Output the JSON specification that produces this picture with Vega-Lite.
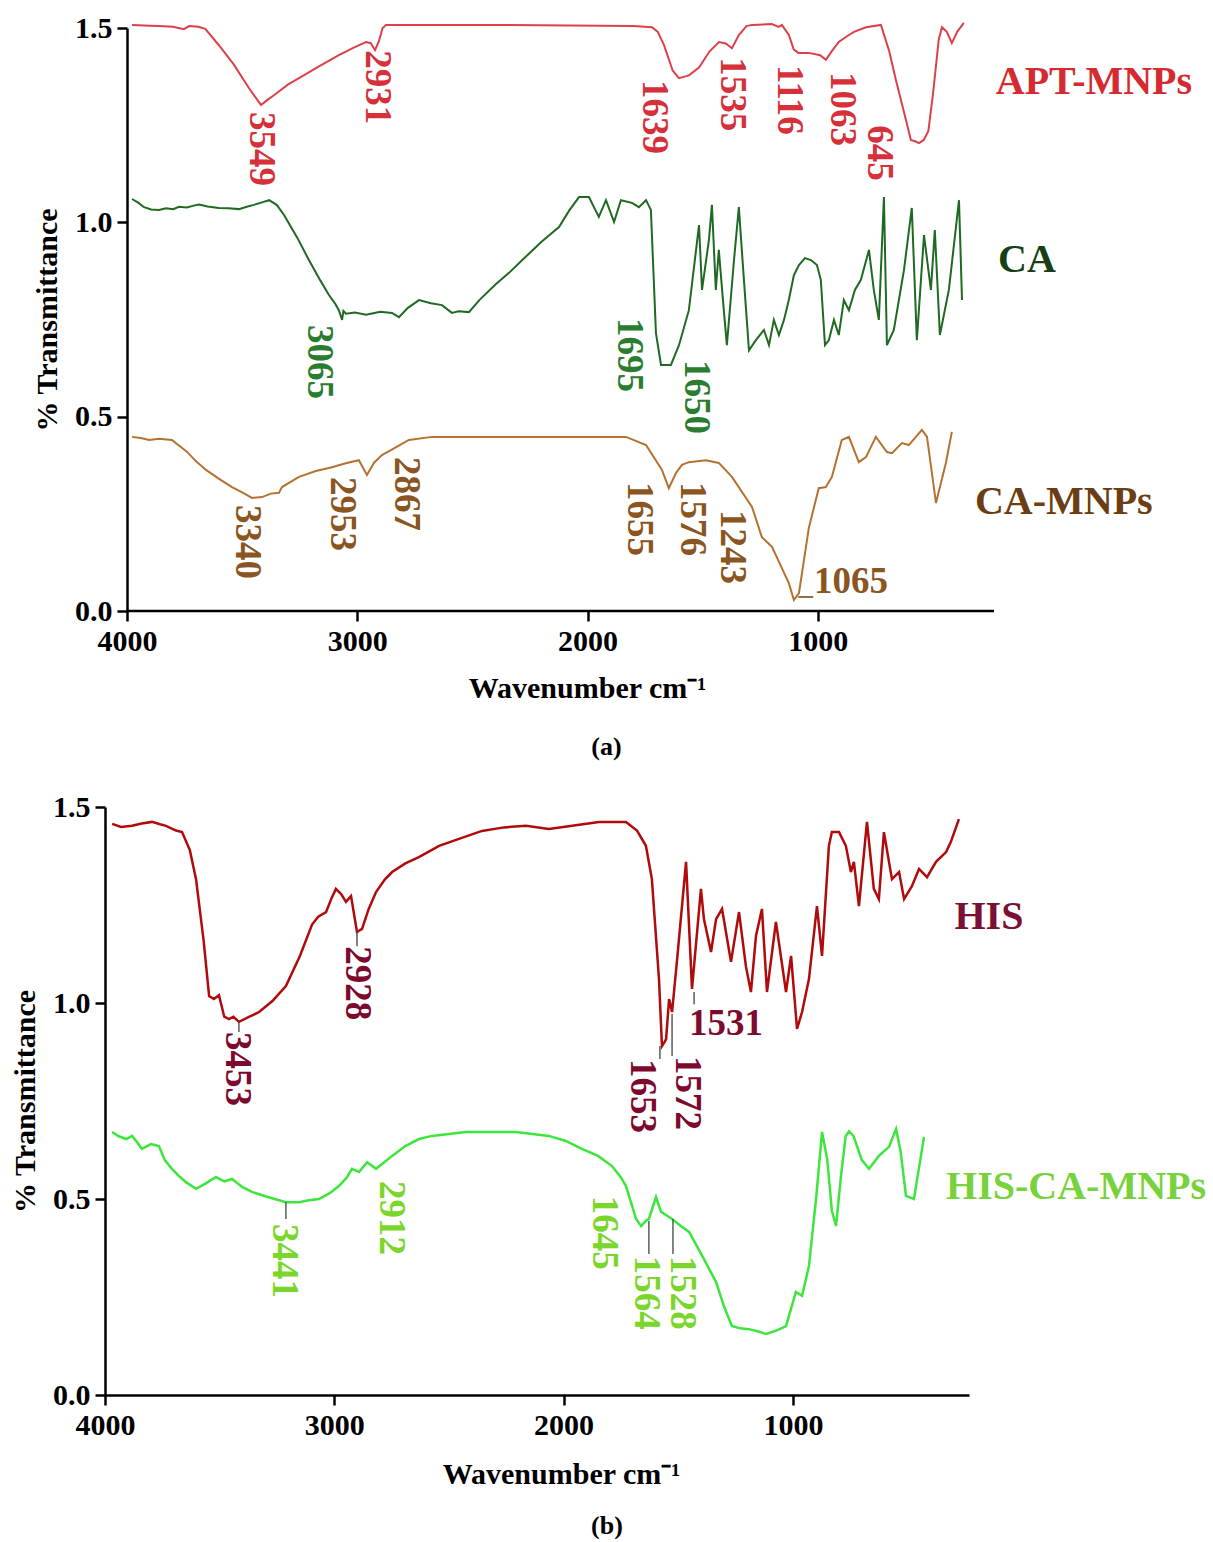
{
  "$schema": "https://vega.github.io/schema/vega-lite/v6.json",
  "background": "white",
  "padding": {"left": 10, "top": 13, "right": 5, "bottom": 0},
  "spacing": 32,
  "config": {
    "view": {"stroke": null},
    "axis": {
      "grid": false, "labelFont": "Liberation Serif", "labelFontSize": 30, "labelFontWeight": "bold", "labelColor": "black",
      "titleFont": "Liberation Serif", "titleFontSize": 30, "titleFontWeight": "bold", "titleColor": "black",
      "domainColor": "black", "domainWidth": 2.5, "tickColor": "black", "tickWidth": 2.5, "tickSize": 10,
      "labelPadding": 5, "labelFlush": false, "labelOverlap": false
    },
    "title": {"font": "Liberation Serif", "fontSize": 26, "fontWeight": "bold", "color": "black"}
  },
  "datasets": {
    "specA": [
      {"s":"APT-MNPs","wn":3978,"T":1.508},{"s":"APT-MNPs","wn":3900,"T":1.506},{"s":"APT-MNPs","wn":3861,"T":1.505},{"s":"APT-MNPs","wn":3800,"T":1.503},{"s":"APT-MNPs","wn":3753,"T":1.497},{"s":"APT-MNPs","wn":3730,"T":1.505},{"s":"APT-MNPs","wn":3690,"T":1.503},{"s":"APT-MNPs","wn":3660,"T":1.498},{"s":"APT-MNPs","wn":3600,"T":1.455},{"s":"APT-MNPs","wn":3535,"T":1.405},{"s":"APT-MNPs","wn":3470,"T":1.345},{"s":"APT-MNPs","wn":3418,"T":1.302},{"s":"APT-MNPs","wn":3390,"T":1.315},{"s":"APT-MNPs","wn":3362,"T":1.327},{"s":"APT-MNPs","wn":3300,"T":1.355},{"s":"APT-MNPs","wn":3253,"T":1.371},{"s":"APT-MNPs","wn":3170,"T":1.4},{"s":"APT-MNPs","wn":3080,"T":1.43},{"s":"APT-MNPs","wn":3020,"T":1.448},{"s":"APT-MNPs","wn":2962,"T":1.464},{"s":"APT-MNPs","wn":2941,"T":1.461},{"s":"APT-MNPs","wn":2923,"T":1.443},{"s":"APT-MNPs","wn":2906,"T":1.466},{"s":"APT-MNPs","wn":2890,"T":1.5},{"s":"APT-MNPs","wn":2875,"T":1.508},{"s":"APT-MNPs","wn":2385,"T":1.508},{"s":"APT-MNPs","wn":1800,"T":1.505},{"s":"APT-MNPs","wn":1720,"T":1.502},{"s":"APT-MNPs","wn":1695,"T":1.49},{"s":"APT-MNPs","wn":1668,"T":1.456},{"s":"APT-MNPs","wn":1630,"T":1.39},{"s":"APT-MNPs","wn":1603,"T":1.371},{"s":"APT-MNPs","wn":1560,"T":1.378},{"s":"APT-MNPs","wn":1516,"T":1.398},{"s":"APT-MNPs","wn":1470,"T":1.44},{"s":"APT-MNPs","wn":1429,"T":1.464},{"s":"APT-MNPs","wn":1400,"T":1.46},{"s":"APT-MNPs","wn":1373,"T":1.448},{"s":"APT-MNPs","wn":1343,"T":1.482},{"s":"APT-MNPs","wn":1310,"T":1.505},{"s":"APT-MNPs","wn":1286,"T":1.508},{"s":"APT-MNPs","wn":1200,"T":1.51},{"s":"APT-MNPs","wn":1170,"T":1.503},{"s":"APT-MNPs","wn":1156,"T":1.508},{"s":"APT-MNPs","wn":1126,"T":1.482},{"s":"APT-MNPs","wn":1105,"T":1.445},{"s":"APT-MNPs","wn":1085,"T":1.436},{"s":"APT-MNPs","wn":1039,"T":1.436},{"s":"APT-MNPs","wn":990,"T":1.43},{"s":"APT-MNPs","wn":965,"T":1.418},{"s":"APT-MNPs","wn":940,"T":1.44},{"s":"APT-MNPs","wn":909,"T":1.464},{"s":"APT-MNPs","wn":870,"T":1.48},{"s":"APT-MNPs","wn":843,"T":1.49},{"s":"APT-MNPs","wn":791,"T":1.502},{"s":"APT-MNPs","wn":726,"T":1.508},{"s":"APT-MNPs","wn":690,"T":1.44},{"s":"APT-MNPs","wn":661,"T":1.366},{"s":"APT-MNPs","wn":620,"T":1.27},{"s":"APT-MNPs","wn":596,"T":1.212},{"s":"APT-MNPs","wn":575,"T":1.208},{"s":"APT-MNPs","wn":561,"T":1.204},{"s":"APT-MNPs","wn":540,"T":1.212},{"s":"APT-MNPs","wn":520,"T":1.235},{"s":"APT-MNPs","wn":500,"T":1.33},{"s":"APT-MNPs","wn":475,"T":1.47},{"s":"APT-MNPs","wn":461,"T":1.502},{"s":"APT-MNPs","wn":440,"T":1.49},{"s":"APT-MNPs","wn":418,"T":1.461},{"s":"APT-MNPs","wn":395,"T":1.49},{"s":"APT-MNPs","wn":366,"T":1.513},
      {"s":"CA","wn":3978,"T":1.06},{"s":"CA","wn":3950,"T":1.05},{"s":"CA","wn":3926,"T":1.039},{"s":"CA","wn":3895,"T":1.033},{"s":"CA","wn":3861,"T":1.032},{"s":"CA","wn":3830,"T":1.036},{"s":"CA","wn":3800,"T":1.034},{"s":"CA","wn":3774,"T":1.04},{"s":"CA","wn":3740,"T":1.038},{"s":"CA","wn":3710,"T":1.043},{"s":"CA","wn":3687,"T":1.046},{"s":"CA","wn":3650,"T":1.041},{"s":"CA","wn":3601,"T":1.037},{"s":"CA","wn":3560,"T":1.036},{"s":"CA","wn":3514,"T":1.034},{"s":"CA","wn":3480,"T":1.04},{"s":"CA","wn":3449,"T":1.045},{"s":"CA","wn":3410,"T":1.052},{"s":"CA","wn":3383,"T":1.057},{"s":"CA","wn":3350,"T":1.045},{"s":"CA","wn":3318,"T":1.019},{"s":"CA","wn":3260,"T":0.96},{"s":"CA","wn":3210,"T":0.903},{"s":"CA","wn":3160,"T":0.85},{"s":"CA","wn":3123,"T":0.813},{"s":"CA","wn":3095,"T":0.79},{"s":"CA","wn":3080,"T":0.774},{"s":"CA","wn":3066,"T":0.749},{"s":"CA","wn":3060,"T":0.772},{"s":"CA","wn":3049,"T":0.765},{"s":"CA","wn":3010,"T":0.768},{"s":"CA","wn":2962,"T":0.762},{"s":"CA","wn":2900,"T":0.77},{"s":"CA","wn":2849,"T":0.767},{"s":"CA","wn":2819,"T":0.756},{"s":"CA","wn":2780,"T":0.78},{"s":"CA","wn":2732,"T":0.8},{"s":"CA","wn":2680,"T":0.792},{"s":"CA","wn":2632,"T":0.787},{"s":"CA","wn":2589,"T":0.767},{"s":"CA","wn":2560,"T":0.771},{"s":"CA","wn":2515,"T":0.769},{"s":"CA","wn":2470,"T":0.8},{"s":"CA","wn":2400,"T":0.84},{"s":"CA","wn":2341,"T":0.87},{"s":"CA","wn":2280,"T":0.905},{"s":"CA","wn":2200,"T":0.95},{"s":"CA","wn":2124,"T":0.988},{"s":"CA","wn":2080,"T":1.03},{"s":"CA","wn":2037,"T":1.065},{"s":"CA","wn":1994,"T":1.065},{"s":"CA","wn":1951,"T":1.014},{"s":"CA","wn":1920,"T":1.057},{"s":"CA","wn":1885,"T":1.001},{"s":"CA","wn":1855,"T":1.057},{"s":"CA","wn":1807,"T":1.05},{"s":"CA","wn":1777,"T":1.039},{"s":"CA","wn":1746,"T":1.057},{"s":"CA","wn":1725,"T":1.032},{"s":"CA","wn":1703,"T":0.715},{"s":"CA","wn":1681,"T":0.633},{"s":"CA","wn":1638,"T":0.633},{"s":"CA","wn":1603,"T":0.684},{"s":"CA","wn":1560,"T":0.774},{"s":"CA","wn":1516,"T":0.993},{"s":"CA","wn":1503,"T":0.826},{"s":"CA","wn":1473,"T":0.954},{"s":"CA","wn":1460,"T":1.045},{"s":"CA","wn":1443,"T":0.826},{"s":"CA","wn":1430,"T":0.929},{"s":"CA","wn":1412,"T":0.8},{"s":"CA","wn":1395,"T":0.684},{"s":"CA","wn":1364,"T":0.903},{"s":"CA","wn":1343,"T":1.039},{"s":"CA","wn":1321,"T":0.852},{"s":"CA","wn":1299,"T":0.671},{"s":"CA","wn":1269,"T":0.697},{"s":"CA","wn":1234,"T":0.723},{"s":"CA","wn":1212,"T":0.684},{"s":"CA","wn":1191,"T":0.749},{"s":"CA","wn":1169,"T":0.71},{"s":"CA","wn":1147,"T":0.749},{"s":"CA","wn":1126,"T":0.8},{"s":"CA","wn":1104,"T":0.864},{"s":"CA","wn":1082,"T":0.89},{"s":"CA","wn":1056,"T":0.908},{"s":"CA","wn":1030,"T":0.903},{"s":"CA","wn":1004,"T":0.89},{"s":"CA","wn":987,"T":0.852},{"s":"CA","wn":969,"T":0.684},{"s":"CA","wn":952,"T":0.697},{"s":"CA","wn":930,"T":0.749},{"s":"CA","wn":909,"T":0.71},{"s":"CA","wn":887,"T":0.8},{"s":"CA","wn":865,"T":0.774},{"s":"CA","wn":839,"T":0.826},{"s":"CA","wn":813,"T":0.852},{"s":"CA","wn":778,"T":0.929},{"s":"CA","wn":757,"T":0.826},{"s":"CA","wn":735,"T":0.749},{"s":"CA","wn":713,"T":1.065},{"s":"CA","wn":700,"T":0.684},{"s":"CA","wn":670,"T":0.723},{"s":"CA","wn":626,"T":0.877},{"s":"CA","wn":592,"T":1.037},{"s":"CA","wn":570,"T":0.697},{"s":"CA","wn":539,"T":0.967},{"s":"CA","wn":509,"T":0.826},{"s":"CA","wn":492,"T":0.98},{"s":"CA","wn":470,"T":0.71},{"s":"CA","wn":431,"T":0.826},{"s":"CA","wn":387,"T":1.057},{"s":"CA","wn":374,"T":0.8},
      {"s":"CA-MNPs","wn":3978,"T":0.448},{"s":"CA-MNPs","wn":3940,"T":0.445},{"s":"CA-MNPs","wn":3904,"T":0.44},{"s":"CA-MNPs","wn":3860,"T":0.443},{"s":"CA-MNPs","wn":3805,"T":0.44},{"s":"CA-MNPs","wn":3740,"T":0.41},{"s":"CA-MNPs","wn":3700,"T":0.385},{"s":"CA-MNPs","wn":3657,"T":0.363},{"s":"CA-MNPs","wn":3600,"T":0.34},{"s":"CA-MNPs","wn":3544,"T":0.319},{"s":"CA-MNPs","wn":3500,"T":0.305},{"s":"CA-MNPs","wn":3457,"T":0.291},{"s":"CA-MNPs","wn":3414,"T":0.293},{"s":"CA-MNPs","wn":3375,"T":0.302},{"s":"CA-MNPs","wn":3340,"T":0.304},{"s":"CA-MNPs","wn":3327,"T":0.319},{"s":"CA-MNPs","wn":3253,"T":0.345},{"s":"CA-MNPs","wn":3180,"T":0.36},{"s":"CA-MNPs","wn":3110,"T":0.37},{"s":"CA-MNPs","wn":3050,"T":0.38},{"s":"CA-MNPs","wn":2993,"T":0.388},{"s":"CA-MNPs","wn":2958,"T":0.35},{"s":"CA-MNPs","wn":2928,"T":0.381},{"s":"CA-MNPs","wn":2893,"T":0.401},{"s":"CA-MNPs","wn":2854,"T":0.414},{"s":"CA-MNPs","wn":2776,"T":0.44},{"s":"CA-MNPs","wn":2676,"T":0.448},{"s":"CA-MNPs","wn":2241,"T":0.448},{"s":"CA-MNPs","wn":1833,"T":0.448},{"s":"CA-MNPs","wn":1746,"T":0.427},{"s":"CA-MNPs","wn":1677,"T":0.363},{"s":"CA-MNPs","wn":1647,"T":0.316},{"s":"CA-MNPs","wn":1616,"T":0.355},{"s":"CA-MNPs","wn":1590,"T":0.376},{"s":"CA-MNPs","wn":1560,"T":0.383},{"s":"CA-MNPs","wn":1486,"T":0.388},{"s":"CA-MNPs","wn":1430,"T":0.381},{"s":"CA-MNPs","wn":1373,"T":0.345},{"s":"CA-MNPs","wn":1286,"T":0.268},{"s":"CA-MNPs","wn":1243,"T":0.19},{"s":"CA-MNPs","wn":1199,"T":0.165},{"s":"CA-MNPs","wn":1126,"T":0.072},{"s":"CA-MNPs","wn":1104,"T":0.028},{"s":"CA-MNPs","wn":1082,"T":0.046},{"s":"CA-MNPs","wn":1039,"T":0.214},{"s":"CA-MNPs","wn":996,"T":0.316},{"s":"CA-MNPs","wn":965,"T":0.319},{"s":"CA-MNPs","wn":939,"T":0.345},{"s":"CA-MNPs","wn":896,"T":0.44},{"s":"CA-MNPs","wn":865,"T":0.448},{"s":"CA-MNPs","wn":822,"T":0.383},{"s":"CA-MNPs","wn":791,"T":0.396},{"s":"CA-MNPs","wn":748,"T":0.448},{"s":"CA-MNPs","wn":700,"T":0.409},{"s":"CA-MNPs","wn":678,"T":0.406},{"s":"CA-MNPs","wn":635,"T":0.432},{"s":"CA-MNPs","wn":605,"T":0.427},{"s":"CA-MNPs","wn":548,"T":0.466},{"s":"CA-MNPs","wn":526,"T":0.448},{"s":"CA-MNPs","wn":487,"T":0.278},{"s":"CA-MNPs","wn":444,"T":0.381},{"s":"CA-MNPs","wn":418,"T":0.461}
    ],
    "peaksA": [
      {"s":"APT-MNPs","wn":3418,"T":1.284,"t":"3549"},{"s":"APT-MNPs","wn":2914,"T":1.443,"t":"2931"},{"s":"APT-MNPs","wn":1712,"T":1.366,"t":"1639"},{"s":"APT-MNPs","wn":1373,"T":1.425,"t":"1535"},{"s":"APT-MNPs","wn":1126,"T":1.405,"t":"1116"},{"s":"APT-MNPs","wn":896,"T":1.387,"t":"1063"},{"s":"APT-MNPs","wn":735,"T":1.25,"t":"645"},
      {"s":"CA","wn":3166,"T":0.736,"t":"3065"},{"s":"CA","wn":1820,"T":0.754,"t":"1695"},{"s":"CA","wn":1529,"T":0.646,"t":"1650"},
      {"s":"CA-MNPs","wn":3479,"T":0.273,"t":"3340"},{"s":"CA-MNPs","wn":3066,"T":0.345,"t":"2953"},{"s":"CA-MNPs","wn":2789,"T":0.396,"t":"2867"},{"s":"CA-MNPs","wn":1777,"T":0.332,"t":"1655"},{"s":"CA-MNPs","wn":1547,"T":0.332,"t":"1576"},{"s":"CA-MNPs","wn":1373,"T":0.26,"t":"1243"}
    ],
    "hlabA": [{"s":"CA-MNPs","wn":1017,"T":0.075,"t":"1065"}],
    "ticksA": [{"a":1085,"b":1020,"y":0.036}],
    "namesA": [{"s":"APT-MNPs","wn":-199,"T":1.361},{"s":"CA","wn":92,"T":0.903},{"s":"CA-MNPs","wn":-68,"T":0.28}],
    "specB": [
      {"s":"HIS","wn":3969,"T":1.457},{"s":"HIS","wn":3930,"T":1.449},{"s":"HIS","wn":3882,"T":1.452},{"s":"HIS","wn":3840,"T":1.458},{"s":"HIS","wn":3795,"T":1.462},{"s":"HIS","wn":3760,"T":1.456},{"s":"HIS","wn":3734,"T":1.452},{"s":"HIS","wn":3690,"T":1.44},{"s":"HIS","wn":3664,"T":1.436},{"s":"HIS","wn":3630,"T":1.39},{"s":"HIS","wn":3603,"T":1.316},{"s":"HIS","wn":3570,"T":1.16},{"s":"HIS","wn":3546,"T":1.018},{"s":"HIS","wn":3525,"T":1.01},{"s":"HIS","wn":3503,"T":1.02},{"s":"HIS","wn":3480,"T":0.965},{"s":"HIS","wn":3459,"T":0.959},{"s":"HIS","wn":3440,"T":0.965},{"s":"HIS","wn":3416,"T":0.952},{"s":"HIS","wn":3370,"T":0.965},{"s":"HIS","wn":3328,"T":0.977},{"s":"HIS","wn":3270,"T":1.005},{"s":"HIS","wn":3211,"T":1.043},{"s":"HIS","wn":3150,"T":1.12},{"s":"HIS","wn":3097,"T":1.2},{"s":"HIS","wn":3070,"T":1.22},{"s":"HIS","wn":3036,"T":1.232},{"s":"HIS","wn":3010,"T":1.27},{"s":"HIS","wn":2993,"T":1.291},{"s":"HIS","wn":2970,"T":1.278},{"s":"HIS","wn":2949,"T":1.258},{"s":"HIS","wn":2927,"T":1.273},{"s":"HIS","wn":2901,"T":1.181},{"s":"HIS","wn":2879,"T":1.189},{"s":"HIS","wn":2850,"T":1.24},{"s":"HIS","wn":2818,"T":1.283},{"s":"HIS","wn":2780,"T":1.315},{"s":"HIS","wn":2748,"T":1.334},{"s":"HIS","wn":2690,"T":1.356},{"s":"HIS","wn":2631,"T":1.372},{"s":"HIS","wn":2543,"T":1.401},{"s":"HIS","wn":2450,"T":1.42},{"s":"HIS","wn":2356,"T":1.439},{"s":"HIS","wn":2260,"T":1.448},{"s":"HIS","wn":2164,"T":1.452},{"s":"HIS","wn":2064,"T":1.444},{"s":"HIS","wn":1963,"T":1.452},{"s":"HIS","wn":1846,"T":1.462},{"s":"HIS","wn":1728,"T":1.462},{"s":"HIS","wn":1680,"T":1.44},{"s":"HIS","wn":1641,"T":1.401},{"s":"HIS","wn":1615,"T":1.316},{"s":"HIS","wn":1584,"T":1.061},{"s":"HIS","wn":1571,"T":0.89},{"s":"HIS","wn":1560,"T":0.9},{"s":"HIS","wn":1553,"T":0.908},{"s":"HIS","wn":1540,"T":1.01},{"s":"HIS","wn":1527,"T":0.977},{"s":"HIS","wn":1506,"T":1.105},{"s":"HIS","wn":1466,"T":1.36},{"s":"HIS","wn":1440,"T":1.036},{"s":"HIS","wn":1401,"T":1.291},{"s":"HIS","wn":1388,"T":1.214},{"s":"HIS","wn":1357,"T":1.13},{"s":"HIS","wn":1335,"T":1.214},{"s":"HIS","wn":1309,"T":1.24},{"s":"HIS","wn":1270,"T":1.105},{"s":"HIS","wn":1235,"T":1.232},{"s":"HIS","wn":1205,"T":1.094},{"s":"HIS","wn":1183,"T":1.028},{"s":"HIS","wn":1161,"T":1.171},{"s":"HIS","wn":1135,"T":1.24},{"s":"HIS","wn":1113,"T":1.028},{"s":"HIS","wn":1074,"T":1.207},{"s":"HIS","wn":1030,"T":1.028},{"s":"HIS","wn":1008,"T":1.12},{"s":"HIS","wn":982,"T":0.934},{"s":"HIS","wn":960,"T":0.977},{"s":"HIS","wn":930,"T":1.061},{"s":"HIS","wn":895,"T":1.247},{"s":"HIS","wn":873,"T":1.12},{"s":"HIS","wn":843,"T":1.401},{"s":"HIS","wn":830,"T":1.436},{"s":"HIS","wn":799,"T":1.436},{"s":"HIS","wn":769,"T":1.401},{"s":"HIS","wn":747,"T":1.334},{"s":"HIS","wn":734,"T":1.36},{"s":"HIS","wn":712,"T":1.247},{"s":"HIS","wn":677,"T":1.462},{"s":"HIS","wn":647,"T":1.291},{"s":"HIS","wn":625,"T":1.265},{"s":"HIS","wn":603,"T":1.436},{"s":"HIS","wn":568,"T":1.316},{"s":"HIS","wn":537,"T":1.334},{"s":"HIS","wn":515,"T":1.265},{"s":"HIS","wn":481,"T":1.298},{"s":"HIS","wn":450,"T":1.342},{"s":"HIS","wn":415,"T":1.321},{"s":"HIS","wn":376,"T":1.36},{"s":"HIS","wn":332,"T":1.385},{"s":"HIS","wn":311,"T":1.411},{"s":"HIS","wn":276,"T":1.469},
      {"s":"HIS-CA-MNPs","wn":3969,"T":0.671},{"s":"HIS-CA-MNPs","wn":3940,"T":0.66},{"s":"HIS-CA-MNPs","wn":3908,"T":0.653},{"s":"HIS-CA-MNPs","wn":3882,"T":0.661},{"s":"HIS-CA-MNPs","wn":3860,"T":0.645},{"s":"HIS-CA-MNPs","wn":3839,"T":0.628},{"s":"HIS-CA-MNPs","wn":3800,"T":0.64},{"s":"HIS-CA-MNPs","wn":3765,"T":0.635},{"s":"HIS-CA-MNPs","wn":3740,"T":0.6},{"s":"HIS-CA-MNPs","wn":3708,"T":0.577},{"s":"HIS-CA-MNPs","wn":3680,"T":0.56},{"s":"HIS-CA-MNPs","wn":3647,"T":0.543},{"s":"HIS-CA-MNPs","wn":3603,"T":0.526},{"s":"HIS-CA-MNPs","wn":3560,"T":0.54},{"s":"HIS-CA-MNPs","wn":3516,"T":0.556},{"s":"HIS-CA-MNPs","wn":3480,"T":0.545},{"s":"HIS-CA-MNPs","wn":3446,"T":0.551},{"s":"HIS-CA-MNPs","wn":3400,"T":0.53},{"s":"HIS-CA-MNPs","wn":3359,"T":0.518},{"s":"HIS-CA-MNPs","wn":3290,"T":0.505},{"s":"HIS-CA-MNPs","wn":3211,"T":0.492},{"s":"HIS-CA-MNPs","wn":3154,"T":0.492},{"s":"HIS-CA-MNPs","wn":3110,"T":0.497},{"s":"HIS-CA-MNPs","wn":3067,"T":0.5},{"s":"HIS-CA-MNPs","wn":3020,"T":0.515},{"s":"HIS-CA-MNPs","wn":2980,"T":0.533},{"s":"HIS-CA-MNPs","wn":2945,"T":0.555},{"s":"HIS-CA-MNPs","wn":2923,"T":0.577},{"s":"HIS-CA-MNPs","wn":2892,"T":0.569},{"s":"HIS-CA-MNPs","wn":2857,"T":0.594},{"s":"HIS-CA-MNPs","wn":2818,"T":0.577},{"s":"HIS-CA-MNPs","wn":2748,"T":0.61},{"s":"HIS-CA-MNPs","wn":2690,"T":0.635},{"s":"HIS-CA-MNPs","wn":2631,"T":0.653},{"s":"HIS-CA-MNPs","wn":2574,"T":0.661},{"s":"HIS-CA-MNPs","wn":2426,"T":0.671},{"s":"HIS-CA-MNPs","wn":2208,"T":0.671},{"s":"HIS-CA-MNPs","wn":2064,"T":0.661},{"s":"HIS-CA-MNPs","wn":1990,"T":0.648},{"s":"HIS-CA-MNPs","wn":1920,"T":0.628},{"s":"HIS-CA-MNPs","wn":1850,"T":0.61},{"s":"HIS-CA-MNPs","wn":1789,"T":0.584},{"s":"HIS-CA-MNPs","wn":1750,"T":0.555},{"s":"HIS-CA-MNPs","wn":1728,"T":0.533},{"s":"HIS-CA-MNPs","wn":1700,"T":0.48},{"s":"HIS-CA-MNPs","wn":1684,"T":0.449},{"s":"HIS-CA-MNPs","wn":1662,"T":0.431},{"s":"HIS-CA-MNPs","wn":1640,"T":0.445},{"s":"HIS-CA-MNPs","wn":1628,"T":0.449},{"s":"HIS-CA-MNPs","wn":1597,"T":0.505},{"s":"HIS-CA-MNPs","wn":1575,"T":0.467},{"s":"HIS-CA-MNPs","wn":1550,"T":0.458},{"s":"HIS-CA-MNPs","wn":1527,"T":0.449},{"s":"HIS-CA-MNPs","wn":1490,"T":0.432},{"s":"HIS-CA-MNPs","wn":1453,"T":0.416},{"s":"HIS-CA-MNPs","wn":1400,"T":0.36},{"s":"HIS-CA-MNPs","wn":1335,"T":0.288},{"s":"HIS-CA-MNPs","wn":1300,"T":0.225},{"s":"HIS-CA-MNPs","wn":1266,"T":0.176},{"s":"HIS-CA-MNPs","wn":1230,"T":0.17},{"s":"HIS-CA-MNPs","wn":1192,"T":0.168},{"s":"HIS-CA-MNPs","wn":1150,"T":0.162},{"s":"HIS-CA-MNPs","wn":1117,"T":0.156},{"s":"HIS-CA-MNPs","wn":1070,"T":0.165},{"s":"HIS-CA-MNPs","wn":1030,"T":0.176},{"s":"HIS-CA-MNPs","wn":987,"T":0.263},{"s":"HIS-CA-MNPs","wn":960,"T":0.253},{"s":"HIS-CA-MNPs","wn":930,"T":0.329},{"s":"HIS-CA-MNPs","wn":899,"T":0.5},{"s":"HIS-CA-MNPs","wn":873,"T":0.671},{"s":"HIS-CA-MNPs","wn":850,"T":0.6},{"s":"HIS-CA-MNPs","wn":830,"T":0.47},{"s":"HIS-CA-MNPs","wn":812,"T":0.431},{"s":"HIS-CA-MNPs","wn":790,"T":0.56},{"s":"HIS-CA-MNPs","wn":770,"T":0.66},{"s":"HIS-CA-MNPs","wn":755,"T":0.673},{"s":"HIS-CA-MNPs","wn":735,"T":0.66},{"s":"HIS-CA-MNPs","wn":700,"T":0.6},{"s":"HIS-CA-MNPs","wn":668,"T":0.577},{"s":"HIS-CA-MNPs","wn":625,"T":0.61},{"s":"HIS-CA-MNPs","wn":581,"T":0.633},{"s":"HIS-CA-MNPs","wn":550,"T":0.679},{"s":"HIS-CA-MNPs","wn":530,"T":0.62},{"s":"HIS-CA-MNPs","wn":507,"T":0.508},{"s":"HIS-CA-MNPs","wn":472,"T":0.5},{"s":"HIS-CA-MNPs","wn":450,"T":0.58},{"s":"HIS-CA-MNPs","wn":428,"T":0.658}
    ],
    "peaksB": [
      {"s":"HIS","wn":3424,"T":0.926,"t":"3453"},{"s":"HIS","wn":2901,"T":1.145,"t":"2928"},{"s":"HIS","wn":1658,"T":0.857,"t":"1653"},{"s":"HIS","wn":1462,"T":0.865,"t":"1572"},
      {"s":"HIS-CA-MNPs","wn":3219,"T":0.436,"t":"3441"},{"s":"HIS-CA-MNPs","wn":2753,"T":0.546,"t":"2912"},{"s":"HIS-CA-MNPs","wn":1824,"T":0.508,"t":"1645"},{"s":"HIS-CA-MNPs","wn":1641,"T":0.355,"t":"1564"},{"s":"HIS-CA-MNPs","wn":1484,"T":0.355,"t":"1528"}
    ],
    "hlabB": [{"s":"HIS","wn":1453,"T":0.946,"t":"1531"}],
    "ticksB": [
      {"wn":3416,"T":0.952,"T2":0.926},{"wn":2901,"T":1.181,"T2":1.145},{"wn":1580,"T":0.89,"T2":0.857},{"wn":1527,"T":0.972,"T2":0.865},{"wn":1431,"T":1.028,"T2":0.997},
      {"wn":3211,"T":0.492,"T2":0.449},{"wn":1628,"T":0.444,"T2":0.36},{"wn":1523,"T":0.449,"T2":0.36}
    ],
    "namesB": [{"s":"HIS","wn":145,"T":1.219},{"s":"HIS-CA-MNPs","wn":-235,"T":0.531}]
  },
  "vconcat": [
    {
      "width": 889, "height": 583,
      "title": {"text": "(a)", "orient": "bottom", "offset": 31, "dx": 57},
      "resolve": {"scale": {"color": "independent"}},
      "layer": [
        {
          "data": {"name": "specA"},
          "mark": {"type": "line", "strokeWidth": 2, "interpolate": "linear"},
          "encoding": {
            "x": {"field": "wn", "type": "quantitative", "scale": {"domain": [235, 4095.5], "reverse": true, "nice": false, "zero": false},
                  "axis": {"title": "Wavenumber cm⁻¹", "values": [4000, 3000, 2000, 1000], "format": "d", "domain": false, "titlePadding": 17, "titleX": 482}},
            "y": {"field": "T", "type": "quantitative", "scale": {"domain": [0, 1.5], "nice": false, "zero": false},
                  "axis": {"title": "% Transmittance", "values": [0, 0.5, 1, 1.5], "format": ".1f", "offset": -22, "titlePadding": 12}},
            "color": {"field": "s", "type": "nominal", "scale": {"domain": ["APT-MNPs", "CA", "CA-MNPs"], "range": ["#dd4048", "#1f6a22", "#b5712f"]}, "legend": null},
            "order": {"field": "wn", "sort": "descending"}
          }
        },
        {
          "data": {"values": [{"a": 4000, "b": 235, "y": 0}]},
          "mark": {"type": "rule", "strokeWidth": 2.5, "color": "black"},
          "encoding": {
            "x": {"field": "a", "type": "quantitative"},
            "x2": {"field": "b"},
            "y": {"field": "y", "type": "quantitative"}
          }
        },
        {
          "data": {"name": "ticksA"},
          "mark": {"type": "rule", "strokeWidth": 1.5, "color": "#6b4010"},
          "encoding": {
            "x": {"field": "a", "type": "quantitative"},
            "x2": {"field": "b"},
            "y": {"field": "y", "type": "quantitative"}
          }
        },
        {
          "data": {"name": "peaksA"},
          "mark": {"type": "text", "angle": 90, "align": "left", "baseline": "middle", "font": "Liberation Serif", "fontWeight": "bold", "fontSize": 37},
          "encoding": {
            "x": {"field": "wn", "type": "quantitative"},
            "y": {"field": "T", "type": "quantitative"},
            "text": {"field": "t"},
            "color": {"field": "s", "type": "nominal", "scale": {"domain": ["APT-MNPs", "CA", "CA-MNPs"], "range": ["#d6303a", "#2a7d2e", "#8a5520"]}, "legend": null}
          }
        },
        {
          "data": {"name": "hlabA"},
          "mark": {"type": "text", "align": "left", "baseline": "middle", "font": "Liberation Serif", "fontWeight": "bold", "fontSize": 37, "color": "#8a5520"},
          "encoding": {
            "x": {"field": "wn", "type": "quantitative"},
            "y": {"field": "T", "type": "quantitative"},
            "text": {"field": "t"}
          }
        },
        {
          "data": {"name": "namesA"},
          "mark": {"type": "text", "align": "center", "baseline": "middle", "font": "Liberation Serif", "fontWeight": "bold", "fontSize": 40},
          "encoding": {
            "x": {"field": "wn", "type": "quantitative"},
            "y": {"field": "T", "type": "quantitative"},
            "text": {"field": "s"},
            "color": {"field": "s", "type": "nominal", "scale": {"domain": ["APT-MNPs", "CA", "CA-MNPs"], "range": ["#d42a30", "#163f18", "#6a3e12"]}, "legend": null}
          }
        }
      ]
    },
    {
      "width": 864, "height": 588,
      "title": {"text": "(b)", "orient": "bottom", "offset": 24, "dx": 70},
      "resolve": {"scale": {"color": "independent"}},
      "layer": [
        {
          "data": {"name": "specB"},
          "mark": {"type": "line", "strokeWidth": 2.5, "interpolate": "linear"},
          "encoding": {
            "x": {"field": "wn", "type": "quantitative", "scale": {"domain": [232, 4000], "reverse": true, "nice": false, "zero": false},
                  "axis": {"title": "Wavenumber cm⁻¹", "values": [4000, 3000, 2000, 1000], "format": "d", "titlePadding": 19, "titleX": 456}},
            "y": {"field": "T", "type": "quantitative", "scale": {"domain": [0, 1.5], "nice": false, "zero": false},
                  "axis": {"title": "% Transmittance", "values": [0, 0.5, 1, 1.5], "format": ".1f", "titlePadding": 12}},
            "color": {"field": "s", "type": "nominal", "scale": {"domain": ["HIS", "HIS-CA-MNPs"], "range": ["#b00a0a", "#3ce63c"]}, "legend": null},
            "order": {"field": "wn", "sort": "descending"}
          }
        },
        {
          "data": {"name": "ticksB"},
          "mark": {"type": "rule", "strokeWidth": 1.3, "color": "#3a4a3a"},
          "encoding": {
            "x": {"field": "wn", "type": "quantitative"},
            "y": {"field": "T", "type": "quantitative"},
            "y2": {"field": "T2"}
          }
        },
        {
          "data": {"name": "peaksB"},
          "mark": {"type": "text", "angle": 90, "align": "left", "baseline": "middle", "font": "Liberation Serif", "fontWeight": "bold", "fontSize": 37},
          "encoding": {
            "x": {"field": "wn", "type": "quantitative"},
            "y": {"field": "T", "type": "quantitative"},
            "text": {"field": "t"},
            "color": {"field": "s", "type": "nominal", "scale": {"domain": ["HIS", "HIS-CA-MNPs"], "range": ["#7d0a2e", "#7ad62a"]}, "legend": null}
          }
        },
        {
          "data": {"name": "hlabB"},
          "mark": {"type": "text", "align": "left", "baseline": "middle", "font": "Liberation Serif", "fontWeight": "bold", "fontSize": 37, "color": "#7d0a2e"},
          "encoding": {
            "x": {"field": "wn", "type": "quantitative"},
            "y": {"field": "T", "type": "quantitative"},
            "text": {"field": "t"}
          }
        },
        {
          "data": {"name": "namesB"},
          "mark": {"type": "text", "align": "center", "baseline": "middle", "font": "Liberation Serif", "fontWeight": "bold", "fontSize": 40},
          "encoding": {
            "x": {"field": "wn", "type": "quantitative"},
            "y": {"field": "T", "type": "quantitative"},
            "text": {"field": "s"},
            "color": {"field": "s", "type": "nominal", "scale": {"domain": ["HIS", "HIS-CA-MNPs"], "range": ["#7a1034", "#78d23c"]}, "legend": null}
          }
        }
      ]
    }
  ]
}
